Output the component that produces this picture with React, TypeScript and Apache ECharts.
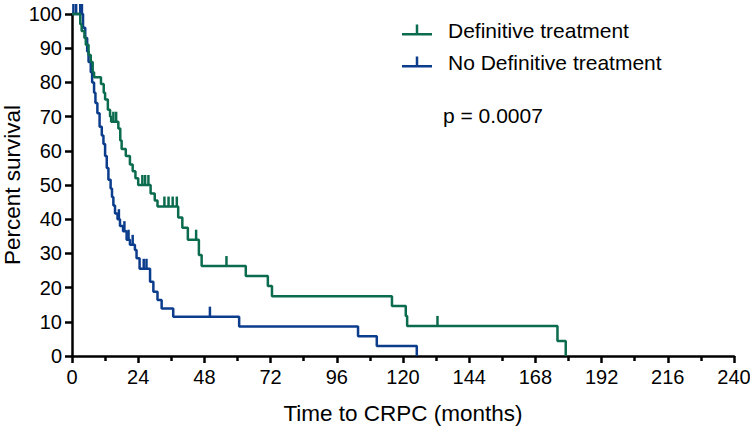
import React, { useEffect, useRef } from "react";
import * as echarts from "echarts";

// Kaplan-Meier steps (time in months, percent survival)
const defTimes = [0, 3, 3.5, 4.5, 5, 6, 6.8, 7.5, 8, 10.5, 11.5, 12, 13, 13.8, 14.2, 16.8, 17.5, 18, 19.5, 21, 22, 23, 24, 28.5, 30, 31, 38.5, 40, 42, 46, 47, 63, 71, 72.5, 116, 121, 121.5, 176, 179];
const defSurv = [100, 97, 95, 93, 91, 88, 86, 83, 81.5, 79.5, 77, 75, 72, 70, 68.5, 66.5, 63, 60.5, 58.5, 56, 54, 52, 50, 47.5, 45.5, 43.7, 40.5, 37.5, 34, 29.5, 26.3, 23.4, 20.5, 17.5, 14.6, 11.7, 8.8, 4.4, 0];
const defCensors = [15, 16, 25.5, 26.5, 27.7, 33.5, 35, 36.5, 38, 45, 56, 132.5];

const noDefTimes = [0, 4, 4.8, 5.5, 6, 6.8, 7.3, 8, 8.5, 9.2, 10, 10.8, 11.4, 12, 12.6, 13.2, 14, 14.5, 15, 15.6, 16.5, 17.4, 18.5, 19.8, 21, 22.8, 23.4, 24.5, 28.3, 29.5, 31, 32.5, 36.7, 60.6, 103.7, 110.5, 125];
const noDefSurv = [100, 96, 93, 89, 86, 83, 80, 77, 74, 71, 67, 64.5, 62, 58.5, 55, 51.5, 49, 46.5, 44, 41.7, 40, 38, 36.5, 34, 32.5, 31, 28.6, 25.5, 21.7, 18.8, 16.4, 13.9, 11.5, 8.6, 5.8, 2.9, 0];
const noDefCensors = [0.5, 1.5, 3, 3.6, 17, 19, 20.5, 22, 26, 27, 50];

const xTicks = [0, 24, 48, 72, 96, 120, 144, 168, 192, 216, 240];
const seriesNames = ["Definitive treatment", "No Definitive treatment"];
const pValueText = "p = 0.0007";

const GREEN = "#0B6B4E";
const BLUE = "#0C3D8D";
const FONT = "'Liberation Sans', Arial, Helvetica, sans-serif";

function survAt(times: number[], surv: number[], t: number): number {
  let s = surv[0];
  for (let i = 0; i < times.length; i++) {
    if (times[i] <= t) s = surv[i];
  }
  return s;
}

function censorSeries(name: string, times: number[], surv: number[], censors: number[], color: string) {
  return {
    type: "custom",
    name,
    clip: false,
    silent: true,
    data: censors.map((t) => [t, survAt(times, surv, t)]),
    renderItem: (_params: any, api: any) => {
      const p = api.coord([api.value(0), api.value(1)]);
      return {
        type: "line",
        shape: { x1: p[0], y1: p[1], x2: p[0], y2: p[1] - 10 },
        style: { stroke: color, lineWidth: 2.5 },
      };
    },
  };
}

export default function App() {
  const ref = useRef<HTMLDivElement>(null);
  useEffect(() => {
    if (!ref.current) return;
    const chart = echarts.init(ref.current, null, { renderer: "svg" });
    const legendIcon = "path://M0,8.5 L30,8.5 L30,11 L0,11 Z M13.75,0 L16.25,0 L16.25,8.5 L13.75,8.5 Z";
    chart.setOption({
      animation: false,
      backgroundColor: "#ffffff",
      grid: { left: 72, right: 16, top: 14, bottom: 73, containLabel: false, outerBoundsMode: "none" },
      legend: {
        orient: "vertical",
        left: 397,
        top: 14,
        itemWidth: 30,
        itemHeight: 11,
        itemGap: 10,
        icon: legendIcon,
        data: seriesNames,
        textStyle: { fontSize: 21, color: "#000", fontFamily: FONT, padding: [0, 0, 0, 11], lineHeight: 22 },
      },
      xAxis: {
        type: "value",
        min: xTicks[0],
        max: xTicks[xTicks.length - 1],
        interval: 24,
        name: "Time to CRPC (months)",
        nameLocation: "middle",
        nameGap: 46,
        nameMoveOverlap: false,
        nameTextStyle: { fontSize: 22.5, color: "#000", fontFamily: FONT },
        axisLine: { lineStyle: { color: "#000", width: 2.5 } },
        axisTick: { length: 7, lineStyle: { color: "#000", width: 2.5 } },
        minorTick: { show: true, splitNumber: 2, length: 5, lineStyle: { color: "#000", width: 2.5 } },
        splitLine: { show: false },
        minorSplitLine: { show: false },
        axisLabel: { fontSize: 20, color: "#000", fontFamily: FONT, margin: 11 },
      },
      yAxis: {
        type: "value",
        min: 0,
        max: 100,
        interval: 10,
        name: "Percent survival",
        nameLocation: "middle",
        nameGap: 48,
        nameMoveOverlap: false,
        nameRotate: 90,
        nameTextStyle: { fontSize: 22.5, color: "#000", fontFamily: FONT },
        axisLine: { show: true, lineStyle: { color: "#000", width: 2.5 } },
        axisTick: { show: true, length: 7, lineStyle: { color: "#000", width: 2.5 } },
        splitLine: { show: false },
        axisLabel: { fontSize: 20, color: "#000", fontFamily: FONT, margin: 10 },
      },
      graphic: [
        {
          type: "text",
          left: 443,
          top: 105,
          style: { text: pValueText, fontSize: 21, fill: "#000", fontFamily: FONT },
        },
      ],
      series: [
        {
          type: "line",
          name: seriesNames[1],
          step: "end",
          showSymbol: false,
          clip: false,
          color: BLUE,
          lineStyle: { color: BLUE, width: 2.5 },
          data: noDefTimes.map((t, i) => [t, noDefSurv[i]]),
        },
        {
          type: "line",
          name: seriesNames[0],
          step: "end",
          showSymbol: false,
          clip: false,
          color: GREEN,
          lineStyle: { color: GREEN, width: 2.5 },
          data: defTimes.map((t, i) => [t, defSurv[i]]),
        },
        censorSeries("noDefCensor", noDefTimes, noDefSurv, noDefCensors, BLUE),
        censorSeries("defCensor", defTimes, defSurv, defCensors, GREEN),
      ],
    });
    return () => chart.dispose();
  }, []);
  return <div ref={ref} style={{ width: 750, height: 429, position: "fixed", left: 0, top: 0 }} />;
}
